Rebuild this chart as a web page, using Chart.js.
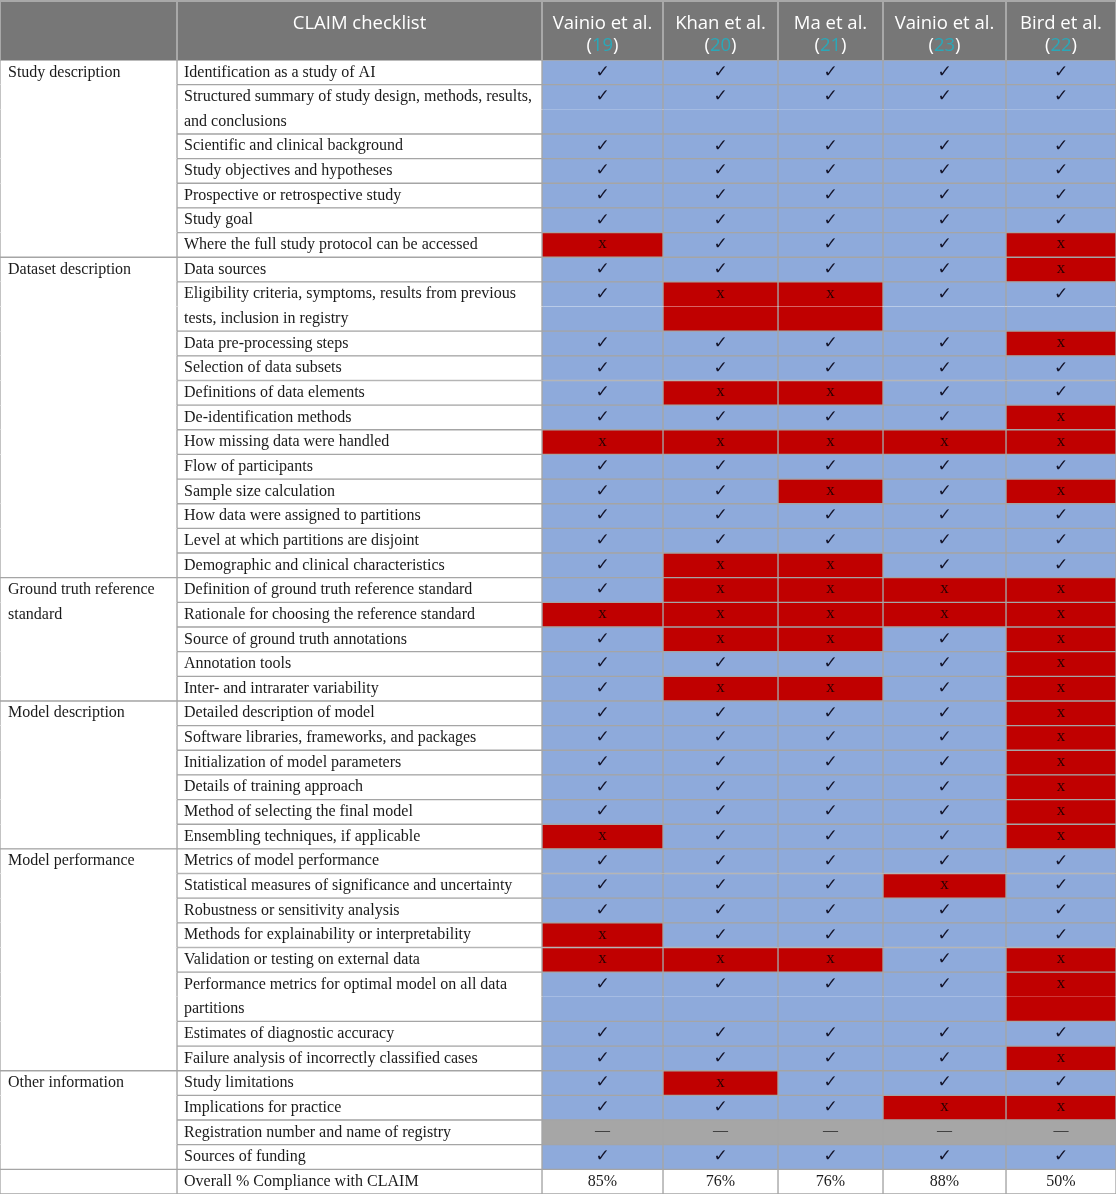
<!DOCTYPE html>
<html>
<head>
<meta charset="utf-8">
<script src="https://cdn.jsdelivr.net/npm/chart.js@4.4.1/dist/chart.umd.min.js"></script>
<style>
  html, body { margin: 0; padding: 0; background: #fff; }
  #wrap { width: 1116px; height: 1194px; position: relative; }
</style>
</head>
<body>
<div id="wrap"><canvas id="claim"></canvas></div>
<script>
// ---- data ----
const sectionNames = [
  'Study description',
  'Dataset description',
  'Ground truth reference\nstandard',
  'Model description',
  'Model performance',
  'Other information',
  ''
];
const sectionSizes = [7, 12, 5, 6, 8, 4, 1];

const items = [
  'Identification as a study of AI',
  'Structured summary of study design, methods, results,\nand conclusions',
  'Scientific and clinical background',
  'Study objectives and hypotheses',
  'Prospective or retrospective study',
  'Study goal',
  'Where the full study protocol can be accessed',
  'Data sources',
  'Eligibility criteria, symptoms, results from previous\ntests, inclusion in registry',
  'Data pre-processing steps',
  'Selection of data subsets',
  'Definitions of data elements',
  'De-identification methods',
  'How missing data were handled',
  'Flow of participants',
  'Sample size calculation',
  'How data were assigned to partitions',
  'Level at which partitions are disjoint',
  'Demographic and clinical characteristics',
  'Definition of ground truth reference standard',
  'Rationale for choosing the reference standard',
  'Source of ground truth annotations',
  'Annotation tools',
  'Inter- and intrarater variability',
  'Detailed description of model',
  'Software libraries, frameworks, and packages',
  'Initialization of model parameters',
  'Details of training approach',
  'Method of selecting the final model',
  'Ensembling techniques, if applicable',
  'Metrics of model performance',
  'Statistical measures of significance and uncertainty',
  'Robustness or sensitivity analysis',
  'Methods for explainability or interpretability',
  'Validation or testing on external data',
  'Performance metrics for optimal model on all data\npartitions',
  'Estimates of diagnostic accuracy',
  'Failure analysis of incorrectly classified cases',
  'Study limitations',
  'Implications for practice',
  'Registration number and name of registry',
  'Sources of funding',
  'Overall % Compliance with CLAIM'
];

const studyNames = ['Vainio et al.', 'Khan et al.', 'Ma et al.', 'Vainio et al.', 'Bird et al.'];
const studyRefs = ['19', '20', '21', '23', '22'];

// 1 = reported, 0 = not reported, null = not applicable
const vainio19 = [1,1,1,1,1,1,0, 1,1,1,1,1,1,0,1,1,1,1,1, 1,0,1,1,1, 1,1,1,1,1,0, 1,1,1,0,0,1,1,1, 1,1,null,1];
const khan20   = [1,1,1,1,1,1,1, 1,0,1,1,0,1,0,1,1,1,1,0, 0,0,0,1,0, 1,1,1,1,1,1, 1,1,1,1,0,1,1,1, 0,1,null,1];
const ma21     = [1,1,1,1,1,1,1, 1,0,1,1,0,1,0,1,0,1,1,0, 0,0,0,1,0, 1,1,1,1,1,1, 1,1,1,1,0,1,1,1, 1,1,null,1];
const vainio23 = [1,1,1,1,1,1,1, 1,1,1,1,1,1,0,1,1,1,1,1, 0,0,1,1,1, 1,1,1,1,1,1, 1,0,1,1,1,1,1,1, 1,0,null,1];
const bird22   = [1,1,1,1,1,1,0, 0,1,0,1,1,0,0,1,0,1,1,1, 0,0,0,0,0, 0,0,0,0,0,0, 1,1,1,1,0,0,1,0, 1,0,null,1];

const compliance = [85, 76, 76, 88, 50];

// ---- layout ----
const colWidths = [177, 365, 121, 115, 105, 123, 110];
const HEADER_H = 60;
const BLUE = '#8eaadb';
const RED = '#c00000';
const GREY = '#a6a6a6';
const LINE = '#a5a5a5';
const SERIF = '"Liberation Serif", "Times New Roman", serif';

const studies = [vainio19, khan20, ma21, vainio23, bird22];
const edges = [0];
colWidths.forEach(w => edges.push(edges[edges.length - 1] + w));

// every text line of a row gets one category slot
const slotRow = [];
const rowFirstSlot = [];
items.forEach((t, r) => {
  rowFirstSlot.push(slotRow.length);
  t.split('\n').forEach(() => slotRow.push(r));
});
const rowSection = [];
sectionSizes.forEach((n, s) => { for (let k = 0; k < n; k++) rowSection.push(s); });
const lastRow = items.length - 1;

function isFirstSlotOfRow(i) { return i === 0 || slotRow[i - 1] !== slotRow[i]; }
function isLastSlotOfRow(i) { return i === slotRow.length - 1 || slotRow[i + 1] !== slotRow[i]; }
function isFirstSlotOfSection(i) { return i === 0 || rowSection[slotRow[i - 1]] !== rowSection[slotRow[i]]; }
function isLastSlotOfSection(i) { return i === slotRow.length - 1 || rowSection[slotRow[i + 1]] !== rowSection[slotRow[i]]; }

function cellColor(c, r) {
  if (c < 2 || r === lastRow) return '#ffffff';
  const v = studies[c - 2][r];
  if (v === null) return GREY;
  return v ? BLUE : RED;
}

const datasets = colWidths.map((w, c) => ({
  label: 'col' + c,
  data: slotRow.map(() => [edges[c], edges[c + 1]]),
  backgroundColor: slotRow.map(r => cellColor(c, r)),
  borderColor: LINE,
  borderSkipped: false,
  borderWidth: ctx => {
    const i = ctx.dataIndex;
    const top = c === 0 ? isFirstSlotOfSection(i) : isFirstSlotOfRow(i);
    const bottom = c === 0 ? isLastSlotOfSection(i) : isLastSlotOfRow(i);
    return { top: top ? 1 : 0, bottom: bottom ? 1 : 0, left: 1, right: 1 };
  },
  grouped: false,
  barPercentage: 1,
  categoryPercentage: 1
}));

const headerPlugin = {
  id: 'header',
  afterDatasetsDraw(chart) {
    const ctx = chart.ctx;
    const x = chart.scales.x;
    const top = chart.chartArea.top;
    const px = v => x.getPixelForValue(v);
    ctx.save();
    ctx.fillStyle = '#777777';
    ctx.fillRect(px(edges[0]), 0, px(edges[edges.length - 1]) - px(edges[0]), top);
    ctx.strokeStyle = '#a8a8a8';
    ctx.lineWidth = 2;
    edges.forEach(e => {
      ctx.beginPath();
      ctx.moveTo(px(e), 0);
      ctx.lineTo(px(e), top);
      ctx.stroke();
    });
    ctx.beginPath();
    ctx.moveTo(px(edges[0]), 1);
    ctx.lineTo(px(edges[edges.length - 1]), 1);
    ctx.stroke();

    ctx.font = '18.5px "Open Sans", sans-serif';
    ctx.textBaseline = 'middle';
    ctx.textAlign = 'center';
    ctx.fillStyle = '#ffffff';
    ctx.fillText('CLAIM checklist', (px(edges[1]) + px(edges[2])) / 2, 24);

    studyNames.forEach((name, s) => {
      const cx = (px(edges[s + 2]) + px(edges[s + 3])) / 2;
      ctx.textAlign = 'center';
      ctx.fillStyle = '#ffffff';
      ctx.fillText(name, cx, 24);
      const open = ctx.measureText('(').width;
      const num = ctx.measureText(studyRefs[s]).width;
      const close = ctx.measureText(')').width;
      let sx = cx - (open + num + close) / 2;
      ctx.textAlign = 'left';
      ctx.fillText('(', sx, 46);
      ctx.fillStyle = '#2aa8b8';
      ctx.fillText(studyRefs[s], sx + open, 46);
      ctx.fillStyle = '#ffffff';
      ctx.fillText(')', sx + open + num, 46);
    });
    ctx.restore();
  }
};

const textPlugin = {
  id: 'cellText',
  afterDatasetsDraw(chart) {
    const ctx = chart.ctx;
    const x = chart.scales.x;
    const y = chart.scales.y;
    const px = v => x.getPixelForValue(v);
    ctx.save();
    ctx.textBaseline = 'middle';
    ctx.fillStyle = '#1a1a1a';

    // section names
    ctx.font = '16px ' + SERIF;
    ctx.textAlign = 'left';
    let r0 = 0;
    sectionNames.forEach((name, s) => {
      const slot = rowFirstSlot[r0];
      name.split('\n').forEach((line, k) => {
        if (line) ctx.fillText(line, px(edges[0]) + 8, y.getPixelForValue(slot + k));
      });
      r0 += sectionSizes[s];
    });

    // checklist items
    items.forEach((t, r) => {
      t.split('\n').forEach((line, k) => {
        ctx.fillText(line, px(edges[1]) + 7, y.getPixelForValue(rowFirstSlot[r] + k));
      });
    });

    // study marks
    ctx.textAlign = 'center';
    studies.forEach((vals, s) => {
      const cx = (px(edges[s + 2]) + px(edges[s + 3])) / 2;
      vals.forEach((v, r) => {
        const cy = y.getPixelForValue(rowFirstSlot[r]);
        if (v === 1) {
          ctx.font = '17px "DejaVu Sans", sans-serif';
          ctx.fillStyle = '#14142a';
          ctx.fillText('\u2713', cx, cy);
        } else if (v === 0) {
          ctx.font = '17px ' + SERIF;
          ctx.fillStyle = '#2a0000';
          ctx.fillText('x', cx, cy - 1);
        } else {
          ctx.font = '15px ' + SERIF;
          ctx.fillStyle = '#1a1a1a';
          ctx.fillText('\u2014', cx, cy - 1);
        }
      });
      ctx.font = '16px ' + SERIF;
      ctx.fillStyle = '#1a1a1a';
      ctx.fillText(compliance[s] + '%', cx, y.getPixelForValue(rowFirstSlot[lastRow]));
    });
    ctx.restore();
  }
};

new Chart(document.getElementById('claim'), {
  type: 'bar',
  data: {
    labels: slotRow.map((r, i) => 'line ' + i),
    datasets
  },
  options: {
    indexAxis: 'y',
    responsive: true,
    maintainAspectRatio: false,
    animation: false,
    events: [],
    layout: { padding: { top: HEADER_H, left: 0, right: 0, bottom: 0 } },
    plugins: {
      legend: { display: false },
      tooltip: { enabled: false }
    },
    scales: {
      x: { type: 'linear', min: edges[0], max: edges[edges.length - 1], display: false },
      y: { type: 'category', display: false, offset: true }
    }
  },
  plugins: [headerPlugin, textPlugin]
});
</script>
</body>
</html>
